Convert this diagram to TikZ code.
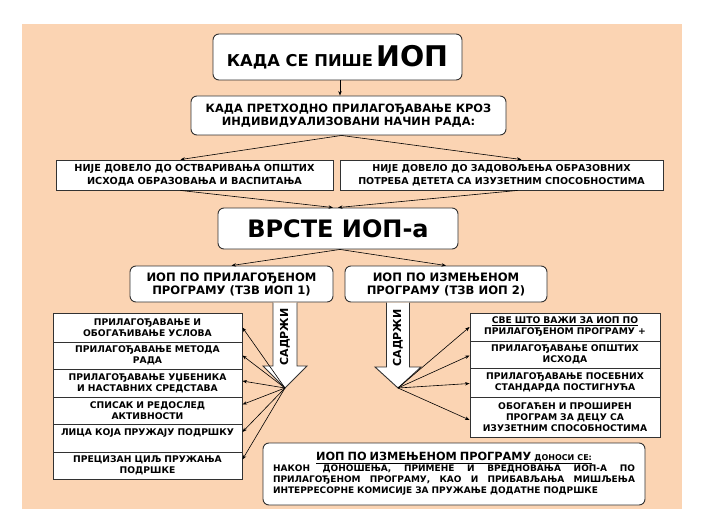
\documentclass[tikz,border=0pt]{standalone}
\usepackage{fontspec}
\setmainfont{DejaVu Sans}[BoldFont={DejaVu Sans Bold}]
\usetikzlibrary{arrows.meta}
\definecolor{peach}{RGB}{251,212,179}
\definecolor{edge}{RGB}{50,50,50}
\tikzset{
  rbox/.style={draw=edge, fill=white, rounded corners=6pt, line width=0.9pt, inner sep=0pt, align=center},
  sbox/.style={draw=edge, fill=white, line width=0.9pt, inner sep=0pt, align=center},
  lst/.style={sbox, minimum width=189pt, text width=185pt, font=\bfseries\fontsize{9.2}{11}\selectfont},
  rlst/.style={sbox, minimum width=190pt, text width=186pt, font=\bfseries\fontsize{9.2}{11}\selectfont},
  conn/.style={-{Stealth[length=4.5pt,width=3.4pt]}, line width=0.6pt, black},
  bigarrow/.style={fill=white, draw=edge, line width=0.9pt},
}
\begin{document}
\begin{tikzpicture}[x=1pt,y=-1pt]
\useasboundingbox (0,0) rectangle (704,524);
\fill[white] (0,0) rectangle (704,524);
\fill[peach] (22,24) rectangle (682,509);

% top
\node[rbox, minimum width=249pt, minimum height=46pt] (top) at (337.5,57)
  {{\bfseries\fontsize{16.3}{20}\selectfont КАДА СЕ ПИШЕ} {\bfseries\fontsize{28.5}{30}\selectfont ИОП}};
\node[rbox, minimum width=315pt, minimum height=39pt, font=\bfseries\fontsize{11.4}{12.5}\selectfont] (q) at (348.5,115.5)
  {КАДА ПРЕТХОДНО ПРИЛАГОЂАВАЊЕ КРОЗ\\ИНДИВИДУАЛИЗОВАНИ НАЧИН РАДА:};

% level 2
\node[sbox, minimum width=277pt, minimum height=30pt, font=\bfseries\fontsize{9.7}{12.5}\selectfont] (l2a) at (194.5,175)
  {НИЈЕ ДОВЕЛО ДО ОСТВАРИВАЊА ОПШТИХ\\ИСХОДА ОБРАЗОВАЊА И ВАСПИТАЊА};
\node[sbox, minimum width=323pt, minimum height=30pt, font=\bfseries\fontsize{9.5}{12.5}\selectfont] (l2b) at (501.5,175)
  {НИЈЕ ДОВЕЛО ДО ЗАДОВОЉЕЊА ОБРАЗОВНИХ\\ПОТРЕБА ДЕТЕТА СА ИЗУЗЕТНИМ СПОСОБНОСТИМА};

% vrste
\node[rbox, minimum width=240pt, minimum height=41pt, font=\bfseries\fontsize{24}{25}\selectfont] (vr) at (338,228.5) {ВРСТЕ ИОП-а};

\node[rbox, minimum width=203pt, minimum height=36pt, font=\bfseries\fontsize{11.6}{13}\selectfont] (i1) at (231.5,284)
  {ИОП ПО ПРИЛАГОЂЕНОМ\\ПРОГРАМУ (ТЗВ ИОП 1)};
\node[rbox, minimum width=202pt, minimum height=36pt, font=\bfseries\fontsize{11.6}{13}\selectfont] (i2) at (446,284)
  {ИОП ПО ИЗМЕЊЕНОМ\\ПРОГРАМУ (ТЗВ ИОП 2)};

% connectors top part
\draw[conn] (top.south -| 340,0) -- (q.north -| 340,0);
\draw[conn] ([xshift=-7pt]q.south) -- ([xshift=-14pt]l2a.north);
\draw[conn] ([xshift=-7pt]q.south) -- ([xshift=20pt]l2b.north);
\draw[conn] ([xshift=-14pt]l2a.south) -- ([xshift=-5pt]vr.north);
\draw[conn] ([xshift=16pt]l2b.south) -- ([xshift=0pt]vr.north);
\draw[conn] ([xshift=2pt]vr.south) -- (i1.north);
\draw[conn] ([xshift=2pt]vr.south) -- (i2.north);

% big arrows
\filldraw[bigarrow] (273,302.5) -- (273,366) -- (263,366) -- (285,388) -- (307,366) -- (297,366) -- (297,302.5);
\coordinate (tipL) at (285,388);
\node[rotate=90, font=\bfseries\fontsize{11}{12}\selectfont] (sadL) at (285,337) {САДРЖИ};
\filldraw[bigarrow] (386.5,302.5) -- (386.5,367) -- (375,367) -- (398,388) -- (421,367) -- (409.5,367) -- (409.5,302.5);
\coordinate (tipR) at (398,388);
\node[rotate=90, font=\bfseries\fontsize{11}{12}\selectfont] (sadR) at (398,338) {САДРЖИ};

% left list
\node[lst, minimum height=29pt] (a1) at (147.5,327.5) {ПРИЛАГОЂАВАЊЕ И\\ОБОГАЋИВАЊЕ УСЛОВА};
\node[lst, minimum height=27pt] (a2) at (147.5,355.5) {ПРИЛАГОЂАВАЊЕ МЕТОДА\\РАДА};
\node[lst, minimum height=28pt] (a3) at (147.5,383) {ПРИЛАГОЂАВАЊЕ УЏБЕНИКА\\И НАСТАВНИХ СРЕДСТАВА};
\node[lst, minimum height=27pt] (a4) at (147.5,410.5) {СПИСАК И РЕДОСЛЕД\\АКТИВНОСТИ};
\node[lst, minimum height=28pt] (a5) at (147.5,438) {ЛИЦА КОЈА ПРУЖАЈУ ПОДРШКУ\\\phantom{Л}};
\node[lst, minimum height=27pt] (a6) at (147.5,465.5) {ПРЕЦИЗАН ЦИЉ ПРУЖАЊА\\ПОДРШКЕ};

\draw[conn] (tipL) -- (a1.east);
\draw[conn] (tipL) -- (a2.east);
\draw[conn] (tipL) -- ([yshift=2pt]a3.east);
\draw[conn] (tipL) -- ([yshift=6pt]a4.east);
\draw[conn] (tipL) -- ([yshift=6pt]a5.east);
\draw[conn] (tipL) -- ([yshift=6pt]a6.east);

% right list
\node[rlst, minimum height=28pt] (b1) at (565,327) {\underline{СВЕ ШТО ВАЖИ ЗА ИОП ПО}\\ПРИЛАГОЂЕНОМ ПРОГРАМУ +};
\node[rlst, minimum height=27pt] (b2) at (565,354.5) {ПРИЛАГОЂАВАЊЕ ОПШТИХ\\ИСХОДА};
\node[rlst, minimum height=29pt] (b3) at (565,382.5) {ПРИЛАГОЂАВАЊЕ ПОСЕБНИХ\\СТАНДАРДА ПОСТИГНУЋА};
\node[rlst, minimum height=40pt] (b4) at (565,417) {ОБОГАЋЕН И ПРОШИРЕН\\ПРОГРАМ ЗА ДЕЦУ СА\\ИЗУЗЕТНИМ СПОСОБНОСТИМА};

\draw[conn] (tipR) -- (b1.west);
\draw[conn] (tipR) -- ([yshift=-1pt]b2.west);
\draw[conn] (tipR) -- ([yshift=-1pt]b3.west);
\draw[conn] (tipR) -- ([yshift=-3pt]b4.west);

% bottom box
\node[rbox, minimum width=382pt, minimum height=62pt, text width=362pt, align=left, font=\bfseries\fontsize{9}{11}\selectfont] (bt) at (454,474)
  {\makebox[362pt][c]{\underline{{\fontsize{11.3}{11}\selectfont ИОП ПО ИЗМЕЊЕНОМ ПРОГРАМУ} {\fontsize{8}{11}\selectfont ДОНОСИ СЕ:}}}\\
   \makebox[362pt][l]{НАКОН\hfill ДОНОШЕЊА,\hfill ПРИМЕНЕ\hfill И\hfill ВРЕДНОВАЊА\hfill ИОП-А\hfill ПО}\\
   \makebox[362pt][l]{ПРИЛАГОЂЕНОМ\hfill ПРОГРАМУ,\hfill КАО\hfill И\hfill ПРИБАВЉАЊА\hfill МИШЉЕЊА}\\
   ИНТЕРРЕСОРНЕ КОМИСИЈЕ ЗА ПРУЖАЊЕ ДОДАТНЕ ПОДРШКЕ};
\end{tikzpicture}
\end{document}
